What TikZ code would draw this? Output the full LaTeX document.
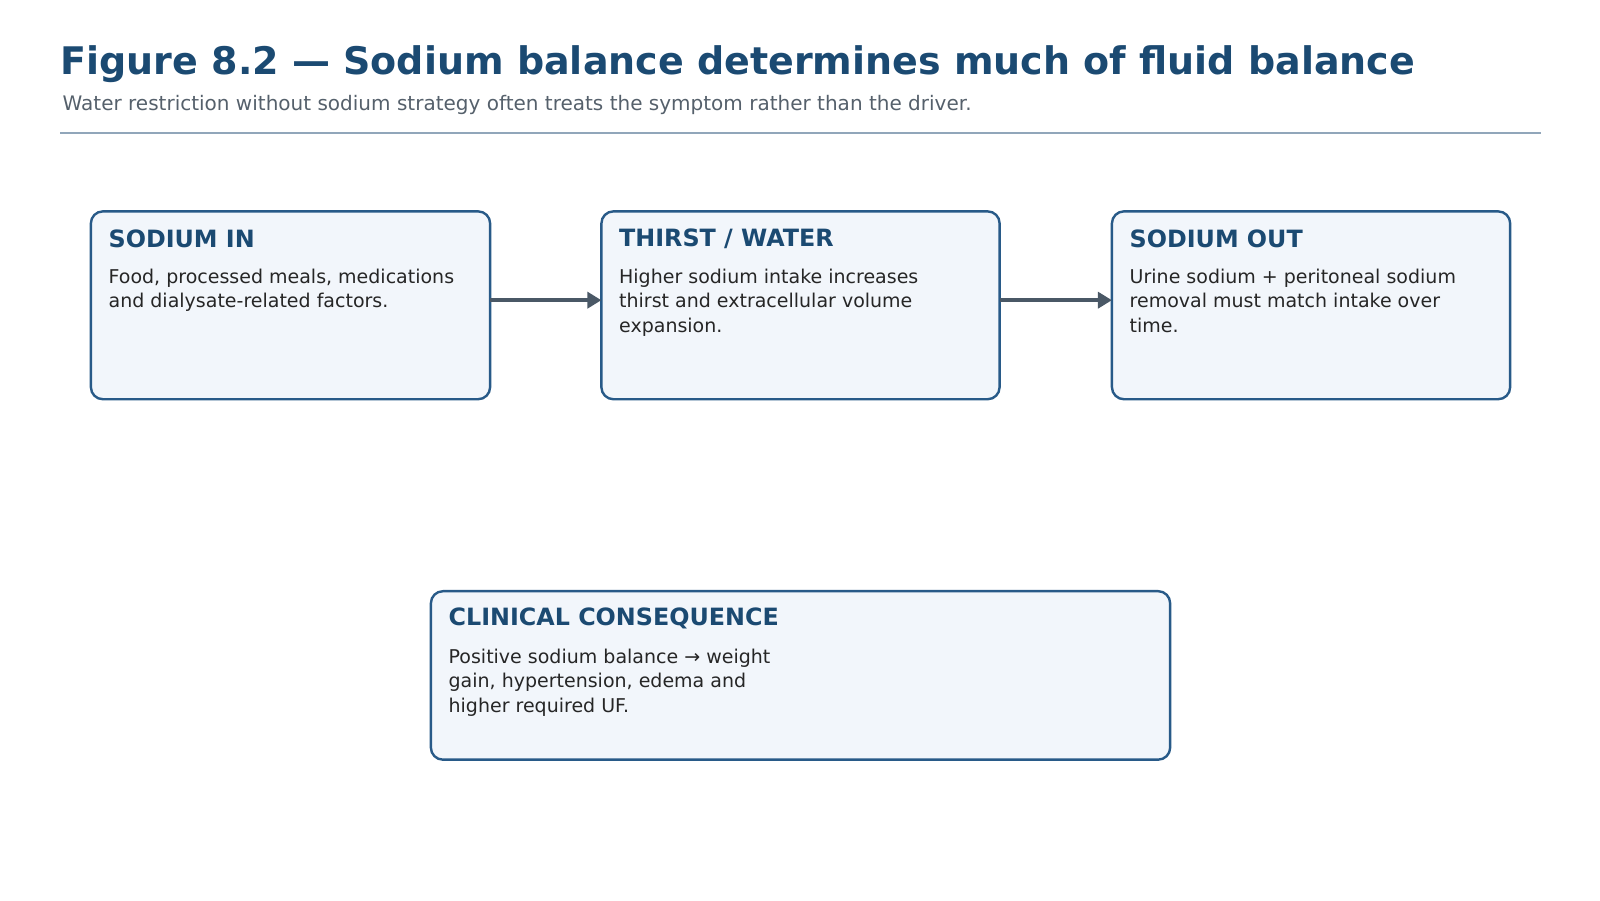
\documentclass[tikz,border=0pt]{standalone}
\usepackage{fontspec}
\setmainfont{DejaVu Sans}
\usetikzlibrary{arrows.meta,positioning}
\definecolor{navy}{HTML}{1B4A72}
\definecolor{boxline}{HTML}{285A88}
\definecolor{boxfill}{HTML}{F2F6FB}
\definecolor{subgray}{HTML}{55606B}
\definecolor{arrowgray}{HTML}{4A5866}
\definecolor{rulegray}{HTML}{91A6BA}
\tikzset{
    panel/.style = {draw=boxline, fill=boxfill, line width=1.2pt, rounded corners=6pt},
    head/.style = {anchor=west, inner sep=0pt, text=navy, font=\fontsize{11.9}{13}\selectfont\bfseries},
    body/.style = {anchor=north west, inner sep=0pt, align=left, text=black!85,
        font=\fontsize{9.5}{12.3}\selectfont},
    flow/.style = {-{Triangle[length=7pt,width=8pt]}, draw=arrowgray, line width=2pt}
}
\begin{document}
\begin{tikzpicture}[x=0.5104pt,y=-0.5104pt]
\useasboundingbox (0,0) rectangle (1567,881.5);
% title block
\node [anchor=base west, inner sep=0pt, text=navy, font=\fontsize{19}{22}\selectfont\bfseries] (title) at (59,73) {Figure 8.2 — Sodium balance determines much of fluid balance};
\node [anchor=base west, inner sep=0pt, text=subgray, font=\fontsize{10}{11}\selectfont] (subtitle) at (61,108) {Water restriction without sodium strategy often treats the symptom rather than the driver.};
\draw [rulegray, line width=0.8pt] (59,130) -- (1509,130);
% panels
\draw [panel] (89,207) rectangle (480,391);
\coordinate (inE) at (480,294);
\node [head] (inH) at (106,234) {SODIUM IN};
\node [body] (inB) at (106,263) {Food, processed meals, medications\\and dialysate-related factors.};
\draw [panel] (589,207) rectangle (979,391);
\coordinate (thW) at (589,294);
\coordinate (thE) at (979,294);
\node [head] (thH) at (606,234) {THIRST / WATER};
\node [body] (thB) at (606,263) {Higher sodium intake increases\\thirst and extracellular volume\\expansion.};
\draw [panel] (1089,207) rectangle (1479,391);
\coordinate (outW) at (1089,294);
\node [head] (outH) at (1106,234) {SODIUM OUT};
\node [body] (outB) at (1106,263) {Urine sodium + peritoneal sodium\\removal must match intake over\\time.};
\draw [panel] (422,579) rectangle (1146,744);
\node [head] (clH) at (439,606) {CLINICAL CONSEQUENCE};
\node [body] (clB) at (439,635) {Positive sodium balance → weight\\gain, hypertension, edema and\\higher required UF.};
% connectors
\draw [flow] (inE) -- (thW);
\draw [flow] (thE) -- (outW);
\end{tikzpicture}
\end{document}
